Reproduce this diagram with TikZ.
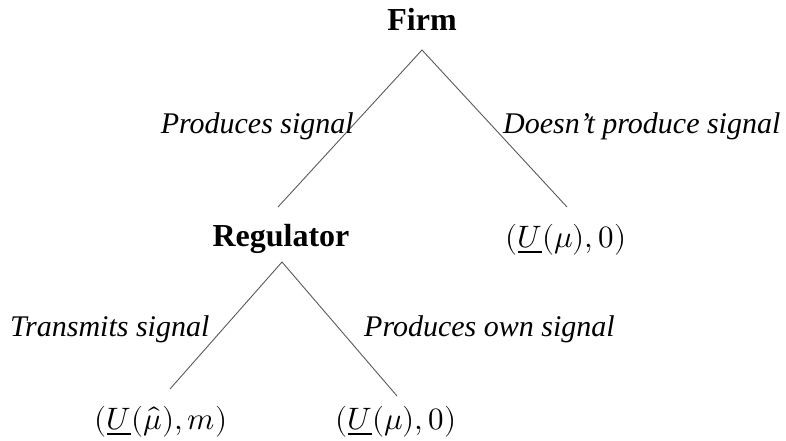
\documentclass[tikz,border=0pt]{standalone}
\usepackage{fontspec}
\usepackage{unicode-math}
\setmainfont{Liberation Serif}
\setmathfont{Latin Modern Math}
\begin{document}
\begin{tikzpicture}[x=1pt,y=-1pt,
  player/.style={anchor=base,inner sep=0pt,font=\fontsize{32}{38}\selectfont\bfseries},
  payoff/.style={anchor=base,inner sep=0pt,font=\fontsize{31}{37}\selectfont},
  lbl/.style={inner sep=0pt,font=\fontsize{30}{36}\selectfont\itshape},
  branch/.style={draw=black!65,line width=0.9pt}]
\useasboundingbox (0,0) rectangle (786,441);
% nodes
\node[player] (firm) at (422,31) {Firm};
\node[player] (reg) at (281,246) {Regulator};
\node[payoff] (p1) at (566,247) {$(\underline{U}(\mu),0)$};
\node[payoff] (p2) at (161,429) {$(\underline{U}(\hat{\mu}),m)$};
\node[payoff] (p3) at (396,429) {$(\underline{U}(\mu),0)$};
% branch end points
\coordinate (fa) at (422,50);
\coordinate (fl) at (278,207);
\coordinate (fr) at (567,207);
\coordinate (ra) at (282,262);
\coordinate (rl) at (170,389);
\coordinate (rr) at (397,396);
\draw[branch] (fl) -- (fa) -- (fr);
\draw[branch] (rl) -- (ra) -- (rr);
% labels
\node[lbl,anchor=base east] (l1) at (354,133) {Produces signal};
\node[lbl,anchor=base west] (l2) at (503,133) {Doesn’t produce signal};
\node[lbl,anchor=base west] (l3) at (10,336) {Transmits signal};
\node[lbl,anchor=base west] (l4) at (364,336) {Produces own signal};
\end{tikzpicture}
\end{document}
